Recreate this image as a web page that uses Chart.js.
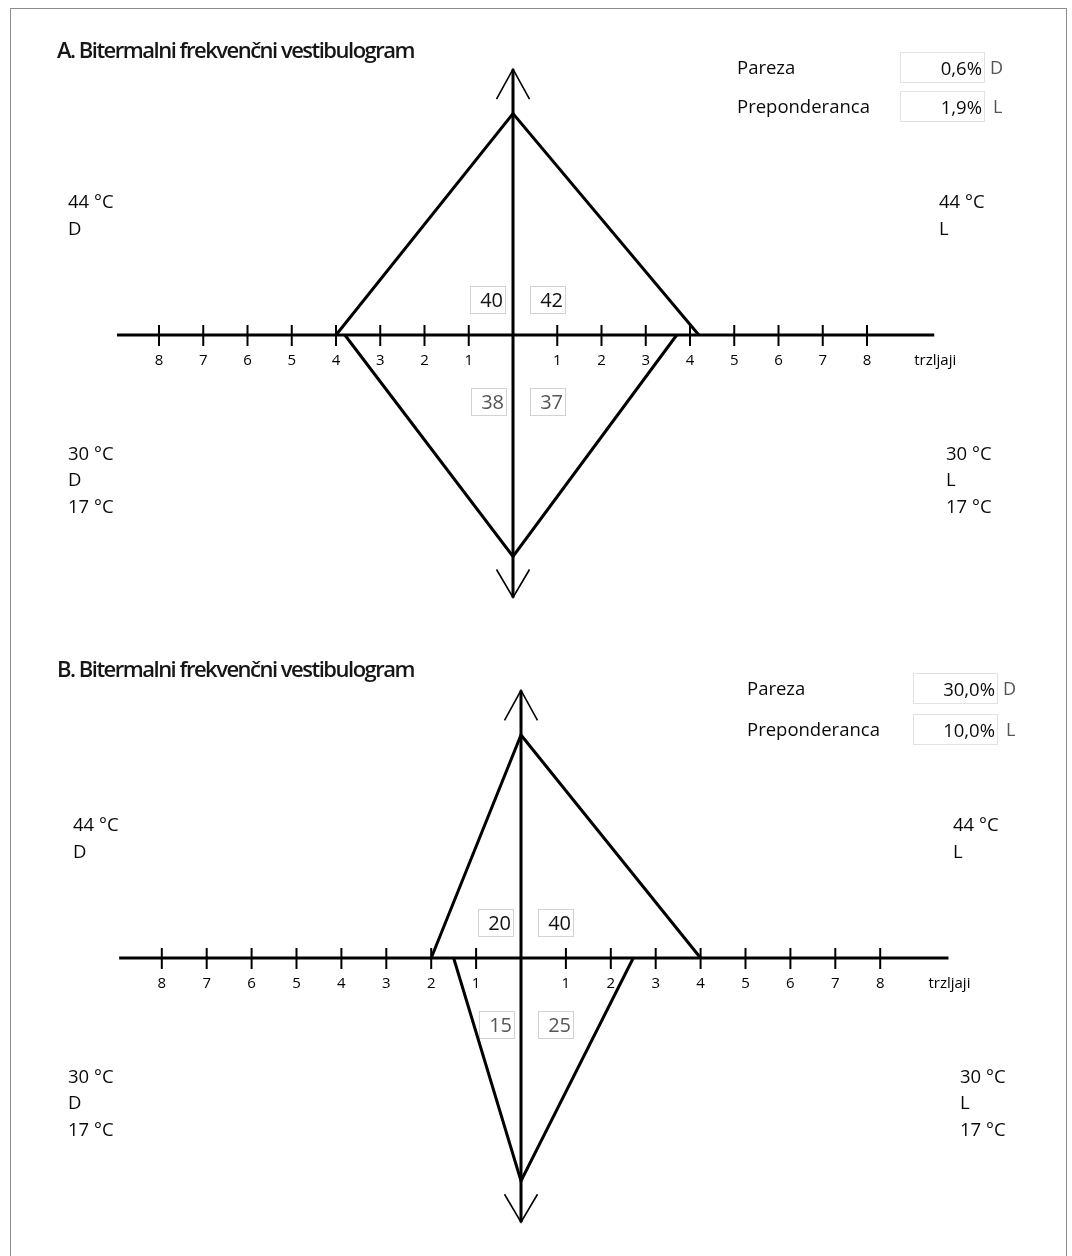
<!DOCTYPE html>
<html>
<head>
<meta charset="utf-8">
<title>Bitermalni frekvenčni vestibulogram</title>
<script src="https://cdn.jsdelivr.net/npm/chart.js@4.4.1/dist/chart.umd.min.js"></script>
<style>
  body { margin: 0; background: #fff; }
  #page { position: relative; width: 1072px; height: 1256px; overflow: hidden; font-family: "Open Sans", sans-serif; color: #0a0a0a; }
  #frame { position: absolute; left: 10px; top: 8px; width: 1057px; height: 1300px; border: 1.5px solid #8c8c8c; box-sizing: border-box; }
  canvas { position: absolute; left: 0; }
  .title { position: absolute; font-weight: 600; font-size: 22px; letter-spacing: -1.5px; line-height: 28px; white-space: nowrap; color: #161616; }
  .lbl { position: absolute; font-size: 18.5px; line-height: 22px; white-space: nowrap; }
  .cell { position: absolute; width: 85px; height: 31px; border: 1px solid #e2e2e2; box-sizing: border-box; text-align: right; padding-right: 2px; font-size: 18.5px; line-height: 29px; }
  .side { position: absolute; font-size: 18px; line-height: 22px; color: #555; }
</style>
</head>
<body>
<div id="page"><div id="frame"></div></div>
<script>
// Nystagmus beat counts (trzljaji) per irrigation, one entry per vestibulogram (A, B)
const panelTitles = ['A. Bitermalni frekvenčni vestibulogram', 'B. Bitermalni frekvenčni vestibulogram'];
const warmRight = [40, 20];   // 44 °C, D
const warmLeft  = [42, 40];   // 44 °C, L
const coldRight = [38, 15];   // 30 °C / 17 °C, D
const coldLeft  = [37, 25];   // 30 °C / 17 °C, L
const paresisValues = ['0,6%', '30,0%'];
const paresisSides = ['D', 'D'];
const preponderanceValues = ['1,9%', '10,0%'];
const preponderanceSides = ['L', 'L'];
const tickLabels = [1, 2, 3, 4, 5, 6, 7, 8];
const beatsPerTick = 10;

// Geometry of each panel on the page (canvas placement and axis scaling)
const layouts = [
  { top: 0,   height: 620, cx: 513, cy: 335, ux: 44.25, uy: 221.5, pareX: 737, cellX: 900 },
  { top: 620, height: 636, cx: 521, cy: 338, ux: 44.9,  uy: 223,   pareX: 747, cellX: 913 }
];
const axisFrom = -8.95, axisTo = 9.52, arrowUp = 1.2, arrowDown = 1.185;

const decor = {
  id: 'vestibulogramDecor',
  beforeDatasetsDraw(chart, args, o) {
    // value cells sit underneath the response lines
    const i = o.index;
    const { ctx } = chart;
    const x0 = chart.scales.x.getPixelForValue(0), y0 = chart.scales.y.getPixelForValue(0);
    const cells = [
      [warmRight[i], x0 - 43, y0 - 49, '#111'],
      [warmLeft[i],  x0 + 17, y0 - 49, '#111'],
      [coldRight[i], x0 - 42, y0 + 53, '#555'],
      [coldLeft[i],  x0 + 17, y0 + 53, '#555']
    ];
    ctx.save();
    ctx.font = '20px "Open Sans"';
    ctx.textAlign = 'right';
    ctx.textBaseline = 'middle';
    cells.forEach(([v, bx, by, col]) => {
      ctx.lineWidth = 1;
      ctx.strokeStyle = '#d2d2d2';
      ctx.strokeRect(Math.round(bx) + 0.5, Math.round(by) + 0.5, 35, 27);
      ctx.fillStyle = col;
      ctx.fillText(String(v), bx + 33, by + 15);
    });
    ctx.restore();
  },
  afterDatasetsDraw(chart) {
    const { ctx } = chart;
    const xs = chart.scales.x, ys = chart.scales.y;
    const px = v => xs.getPixelForValue(v), py = v => ys.getPixelForValue(v);
    const x0 = px(0), y0 = py(0);
    ctx.save();
    ctx.strokeStyle = '#000';
    ctx.lineCap = 'butt';
    // horizontal axis
    ctx.lineWidth = 3;
    ctx.beginPath(); ctx.moveTo(px(axisFrom), y0); ctx.lineTo(px(axisTo), y0); ctx.stroke();
    // vertical axis
    ctx.beginPath(); ctx.moveTo(x0, py(arrowUp)); ctx.lineTo(x0, py(-arrowDown)); ctx.stroke();
    // tick marks crossing the axis
    ctx.lineWidth = 2;
    tickLabels.forEach(t => {
      [-t, t].forEach(v => {
        ctx.beginPath(); ctx.moveTo(px(v), y0 - 10); ctx.lineTo(px(v), y0 + 11); ctx.stroke();
      });
    });
    // open arrowheads at both ends of the vertical axis
    ctx.lineWidth = 1.6;
    const top = py(arrowUp), bot = py(-arrowDown);
    ctx.beginPath();
    ctx.moveTo(x0 - 16.5, top + 30); ctx.lineTo(x0, top); ctx.lineTo(x0 + 16.5, top + 30);
    ctx.moveTo(x0 - 16.5, bot - 28); ctx.lineTo(x0, bot); ctx.lineTo(x0 + 16.5, bot - 28);
    ctx.stroke();
    // tick labels
    ctx.fillStyle = '#000';
    ctx.font = '15px "Open Sans"';
    ctx.textAlign = 'center';
    ctx.textBaseline = 'middle';
    tickLabels.forEach(t => {
      ctx.fillText(String(t), px(-t), y0 + 26);
      ctx.fillText(String(t), px(t), y0 + 26);
    });
    ctx.textAlign = 'left';
    ctx.fillText('trzljaji', px(axisTo) - 20, y0 + 26);
    ctx.restore();
  }
};

function addText(cls, text, x, y) {
  const d = document.createElement('div');
  d.className = cls;
  d.textContent = text;
  d.style.left = x + 'px';
  d.style.top = y + 'px';
  document.getElementById('page').appendChild(d);
  return d;
}

function buildPanel(i) {
  const L = layouts[i];
  const page = document.getElementById('page');
  const cv = document.createElement('canvas');
  cv.width = 1072; cv.height = L.height;
  cv.style.top = L.top + 'px';
  page.appendChild(cv);

  const cyAbs = L.top + L.cy;
  addText('title', panelTitles[i], 57, cyAbs - 300 + (i ? -4 : 0));
  // temperature / side labels
  const warmL = i ? 73 : 68, warmRx = i ? 953 : 939, coldRx = i ? 960 : 946;
  addText('lbl', '44 °C', warmL, cyAbs - 145);
  addText('lbl', 'D', warmL, cyAbs - 118);
  addText('lbl', '44 °C', warmRx, cyAbs - 145);
  addText('lbl', 'L', warmRx, cyAbs - 118);
  [['30 °C', 107], ['D', 133], ['17 °C', 160]].forEach(([t, dy]) => addText('lbl', t, 68, cyAbs + dy));
  [['30 °C', 107], ['L', 133], ['17 °C', 160]].forEach(([t, dy]) => addText('lbl', t, coldRx, cyAbs + dy));
  // paresis / preponderance table
  const rowY = [cyAbs - 283 - (i ? 2 : 0), cyAbs - 244];
  addText('lbl', 'Pareza', L.pareX, rowY[0] + 4);
  addText('lbl', 'Preponderanca', L.pareX, rowY[1] + 4);
  addText('cell', paresisValues[i], L.cellX, rowY[0]);
  addText('cell', preponderanceValues[i], L.cellX, rowY[1]);
  addText('side', paresisSides[i], L.cellX + 90, rowY[0] + 4);
  addText('side', preponderanceSides[i], L.cellX + 93, rowY[1] + 4);

  const upper = [
    { x: -warmRight[i] / beatsPerTick, y: 0 },
    { x: 0, y: 1 },
    { x: warmLeft[i] / beatsPerTick, y: 0 }
  ];
  const lower = [
    { x: -coldRight[i] / beatsPerTick, y: 0 },
    { x: 0, y: -1 },
    { x: coldLeft[i] / beatsPerTick, y: 0 }
  ];
  const lineStyle = { showLine: true, borderColor: '#000', borderWidth: 3, pointRadius: 0, tension: 0,
                      borderJoinStyle: 'miter', borderCapStyle: 'butt', fill: false, clip: false };
  new Chart(cv, {
    type: 'scatter',
    data: { datasets: [ { label: '44 °C', data: upper, ...lineStyle }, { label: '30 °C', data: lower, ...lineStyle } ] },
    options: {
      responsive: false,
      animation: false,
      devicePixelRatio: 1,
      layout: { padding: 0 },
      events: [],
      plugins: { legend: { display: false }, tooltip: { enabled: false }, vestibulogramDecor: { index: i } },
      scales: {
        x: { type: 'linear', display: false, min: -L.cx / L.ux, max: (1072 - L.cx) / L.ux },
        y: { type: 'linear', display: false, min: -(L.height - L.cy) / L.uy, max: L.cy / L.uy }
      }
    },
    plugins: [decor]
  });
}

document.fonts.load('18px "Open Sans"').then(() => document.fonts.load('600 22px "Open Sans"')).then(() => {
  buildPanel(0);
  buildPanel(1);
});
</script>
</body>
</html>
